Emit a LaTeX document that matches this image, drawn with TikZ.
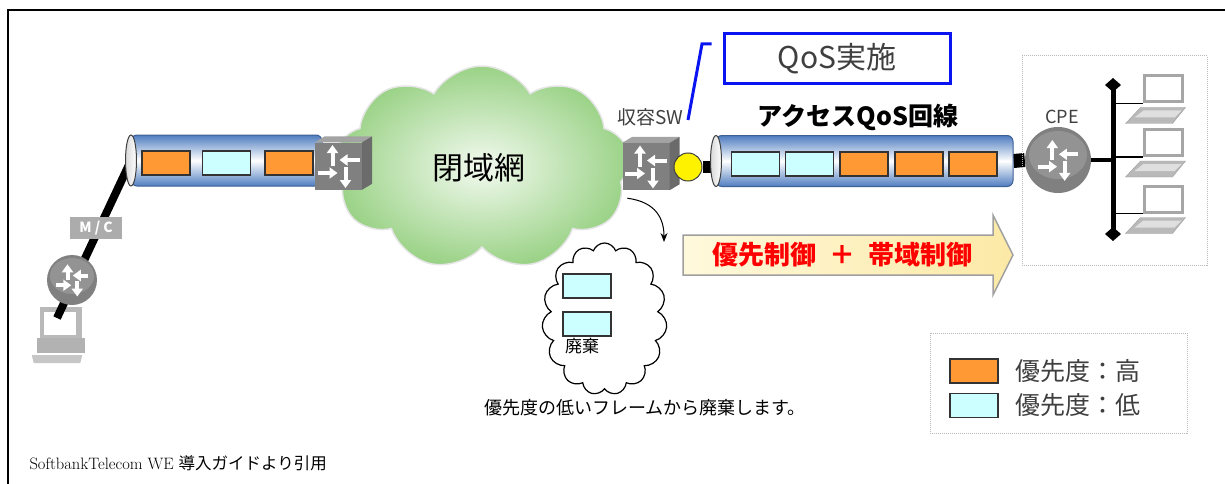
\documentclass[tikz,border=0pt]{standalone}
\usepackage{fontspec}
\usepackage{tikz}
\usetikzlibrary{arrows.meta,positioning,calc,shapes.symbols,shapes.geometric,backgrounds}
\newfontfamily\jp{Noto Sans CJK JP}
\definecolor{muted}{HTML}{3F3F3F}
\definecolor{pkthigh}{HTML}{FF9933}
\definecolor{pktlow}{HTML}{CCFFFF}
\definecolor{pktedge}{HTML}{333333}
\definecolor{tubeblue}{HTML}{4F7DC0}
\definecolor{tubeedge}{HTML}{3D5F94}
\definecolor{boxgray}{HTML}{808080}
\definecolor{boxtop}{HTML}{A3A3A3}
\definecolor{boxside}{HTML}{6B6B6B}
\definecolor{routertop}{HTML}{939393}
\definecolor{leafgreen}{HTML}{9AD286}
\definecolor{leafpale}{HTML}{F3FAF0}
\definecolor{qosblue}{HTML}{0A14F0}
\definecolor{creamL}{HTML}{FFF9DC}
\definecolor{creamR}{HTML}{FCE9A6}
\newcommand{\pinwheel}[2]{%
  \begin{scope}[shift={(#1)},scale=#2,white,line width=4pt,-{Triangle[length=8pt,width=11pt]}]
    \draw (-21,7) -- (-1,7);
    \draw (21,-6) -- (1,-6);
    \draw (-6,0) -- (-6,-21);
    \draw (7,1) -- (7,22);
  \end{scope}}
\newcommand{\cubefaces}[1]{%
  \fill[boxtop] (#1.north west) -- ++(10,-6) -- ($(#1.north east)+(10,-6)$) -- (#1.north east) -- cycle;
  \fill[boxside] (#1.north east) -- ++(10,-6) -- ($(#1.south east)+(10,-6)$) -- (#1.south east) -- cycle;}
\newcommand{\laptopbase}[1]{%
  \fill[gray!55,draw=gray!75] ($(#1.south west)+(-2,4)$) -- ($(#1.south east)+(2,4)$) -- ($(#1.south east)+(-11,20)$) -- ($(#1.south west)+(-17,20)$) -- cycle;
  \fill[gray!25] ($(#1.south west)+(1,7)$) -- ($(#1.south east)+(-2,7)$) -- ($(#1.south east)+(-9,14)$) -- ($(#1.south west)+(-8,14)$) -- cycle;}

\begin{document}
\begin{tikzpicture}[x=1pt,y=-1pt,
  every node/.style={font=\jp},
  pkt/.style={rectangle,draw=pktedge,line width=1.2pt,minimum width=48pt,minimum height=24pt,inner sep=0pt},
  tube/.style={rectangle,draw=tubeedge,line width=1pt,rounded corners=6pt,top color=tubeblue,bottom color=tubeblue,middle color=white,minimum height=51pt,inner sep=0pt},
  tubeend/.style={ellipse,draw=muted,line width=1pt,left color=gray!30,right color=white,minimum width=11pt,minimum height=51pt,inner sep=0pt},
  swbox/.style={rectangle,fill=boxgray,minimum size=47pt,inner sep=0pt},
  router/.style={circle,fill=boxgray,inner sep=0pt},
  dotbox/.style={rectangle,draw=gray!55,densely dotted,line width=1pt,inner sep=0pt},
  lapscreen/.style={rectangle,draw=gray!70,line width=3pt,fill=white,minimum width=38pt,minimum height=26pt,inner sep=0pt}]
  \useasboundingbox (0,0) rectangle (1225,484);
  \draw[line width=2.5pt] (8,484) -- (8,10) -- (1225,10);

  % closed network
  \node[cloud,cloud puffs=9,cloud puff arc=120,aspect=1.45,minimum width=296pt,minimum height=204pt,
        draw=gray!20,line width=1.5pt,inner color=leafpale,outer color=leafgreen] (wan) at (482,168) {};
  \node[font=\jp\fontsize{31}{31}\selectfont] (wanlbl) at (479,168) {閉域網};

  % user side
  \node[rectangle,fill=gray!55,minimum width=42pt,minimum height=33pt,inner sep=0pt] (pcmon) at (61,323.5) {};
  \fill[white] ($(pcmon.north west)+(4,5)$) rectangle ($(pcmon.south east)+(-6,-5)$);
  \fill[gray!60] ($(pcmon.south west)+(-3,-2)$) rectangle ($(pcmon.south east)+(3,13)$);
  \fill[gray!45] ($(pcmon.south west)+(-8,15)$) -- ($(pcmon.south east)+(0,15)$) -- ($(pcmon.south east)+(-2,23)$) -- ($(pcmon.south west)+(-6,23)$) -- cycle;
  \coordinate (pctop) at (57,318);
  \coordinate (lfoot) at (131,160.5);
  \draw[line width=8pt] (lfoot) -- (pctop);
  \node[fill=gray!65,text=white,font=\jp\bfseries\fontsize{14}{14}\selectfont,minimum width=52pt,minimum height=22pt,inner sep=0pt] (mc) at (96,228) {M / C};
  \node[router,minimum size=50pt] (lrt) at (72,280) {};
  \fill[routertop] ($(lrt.center)+(0,-4)$) ellipse (22 and 18);
  \pinwheel{lrt.center}{0.75}

  \node[tube,minimum width=191pt] (ltube) at (226.5,160.5) {};
  \node[tubeend] (lend) at (lfoot) {};
  \foreach \x/\c/\n in {166/pkthigh/1,226.5/pktlow/2,289/pkthigh/3}
    \node[pkt,fill=\c] (lp\n) at (\x,163) {};
  \node[swbox] (sw1) at (338.5,166) {};
  \cubefaces{sw1}
  \pinwheel{sw1.center}{1}

  % access line
  \node[swbox] (sw2) at (646,166.5) {};
  \cubefaces{sw2}
  \pinwheel{sw2.center}{1}
  \node[font=\jp\fontsize{19}{19}\selectfont,text=muted] (sw2lbl) at (650,117) {収容SW};
  \node[circle,fill=yellow,draw=muted,line width=1pt,minimum size=28pt,inner sep=0pt] (tap) at (688,167) {};
  \node[tube,minimum width=297pt] (rtube) at (864.5,161) {};
  \node[tubeend] (rend) at (716,161) {};
  \foreach \x/\c/\n in {755.5/pktlow/1,809.5/pktlow/2,864/pkthigh/3,919/pkthigh/4,973/pkthigh/5}
    \node[pkt,fill=\c] (rp\n) at (\x,164) {};
  \node[font=\jp\bfseries\fontsize{25}{25}\selectfont] (acclbl) at (858,117) {アクセスQoS回線};

  \node[draw=qosblue,line width=3pt,minimum width=226pt,minimum height=50pt,text=muted,
        font=\jp\fontsize{30}{30}\selectfont] (qos) at (837,59) {QoS実施};
  \coordinate (calla) at (688,120);
  \coordinate (callb) at (702,44);
  \draw[qosblue,line width=3pt,shorten >=11pt] (calla) -- (callb) -- (callb -| qos.west);

  % customer premises
  \node[dotbox,minimum width=185pt,minimum height=209pt] (lan) at (1114.5,160.5) {};
  \node[router,minimum size=66pt] (cpe) at (1058,160) {};
  \fill[routertop] ($(cpe.center)+(0,-5)$) ellipse (29 and 24);
  \pinwheel{cpe.center}{0.95}
  \node[font=\jp\fontsize{18}{18}\selectfont,text=muted] (cpelbl) at (1062,117) {CPE};
  \coordinate (bustop) at (1113,78);
  \coordinate (busbot) at (1113,241);
  \draw[line width=5pt,{Diamond[length=14pt,width=16pt]}-{Diamond[length=14pt,width=16pt]}] (bustop) -- (busbot);
  \draw[line width=4pt] (cpe.east) -- (cpe.east -| bustop);
  \foreach \n/\y in {1/89,2/142.5,3/199} {
    \node[lapscreen] (lap\n) at (1163,\y) {};
    \laptopbase{lap\n}
    \draw[line width=1.5pt] (lap\n.south west -| bustop) -- (lap\n.south west);
  }

  \begin{pgfonlayer}{background}
    \draw[line width=12pt] (tap) -- (tap -| rend);
    \draw[line width=14pt] (rtube.east) -- (cpe.west);
  \end{pgfonlayer}

  % shaping arrow
  \shadedraw[draw=gray!75,line width=1.5pt,left color=creamL,right color=creamR]
    (683,235) -- (993,235) -- (993,215) -- (1013,255) -- (993,295) -- (993,275) -- (683,275) -- cycle;
  \node[font=\jp\bfseries\fontsize{26}{26}\selectfont,text=red] (ctrl) at (842,255) {優先制御\enspace{}＋\enspace{}帯域制御};

  % discarded frames
  \node[cloud,cloud puffs=15,cloud puff arc=140,aspect=0.8,draw=black,line width=1.2pt,fill=white,
        minimum width=125pt,minimum height=152pt] (drop) at (604.5,319) {};
  \node[pkt,fill=pktlow] (dp1) at (587,286) {};
  \node[pkt,fill=pktlow] (dp2) at (587,324) {};
  \node[font=\jp\fontsize{17}{17}\selectfont] (droplbl) at (582,346) {廃棄};
  \coordinate (droptip) at (664,242);
  \draw[line width=1pt,-{Stealth[length=9pt,width=7pt]}] ($(sw2.south west)+(5,8)$) .. controls +(30,4) and +(0,-22) .. (droptip);
  \node[font=\jp\fontsize{18}{18}\selectfont] (dropnote) at (645,408) {優先度の低いフレームから廃棄します。};

  % legend
  \node[dotbox,minimum width=257pt,minimum height=100pt] (legend) at (1058.5,383) {};
  \node[pkt,fill=pkthigh] (keyhi) at (974,371) {};
  \node[pkt,fill=pktlow] (keylo) at (974,405.5) {};
  \node[right=17pt of keyhi,inner sep=0pt,text=muted,font=\jp\fontsize{25}{25}\selectfont] (keyhilbl) {優先度：高};
  \node[right=17pt of keylo,inner sep=0pt,text=muted,font=\jp\fontsize{25}{25}\selectfont] (keylolbl) {優先度：低};

  \node[anchor=west,font=\fontsize{16.5}{16.5}\selectfont] (src) at (26,463) {SoftbankTelecom WE {\jp 導入ガイドより引用}};
\end{tikzpicture}
\end{document}
